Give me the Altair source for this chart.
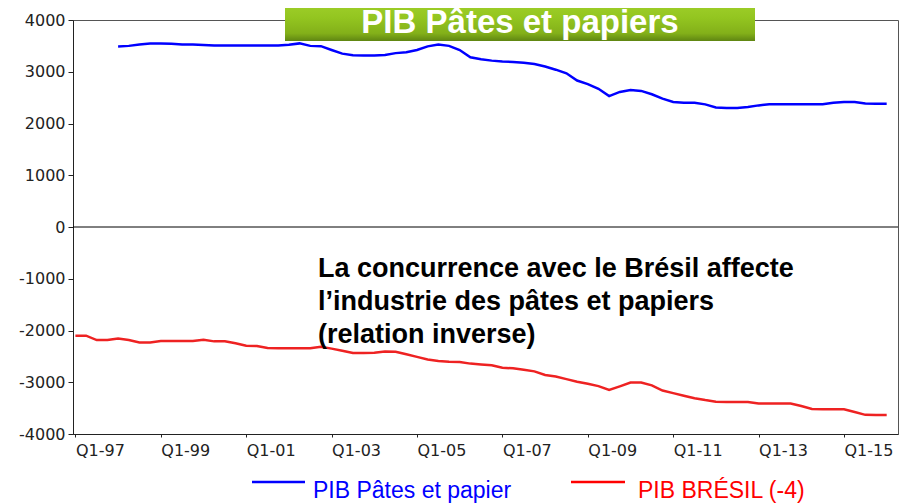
import altair as alt
import pandas as pd

# ---------------- data ----------------
series_names = ["PIB Pâtes et papier", "PIB BRÉSIL (-4)"]
series_colors = ["#0000ff", "#ee2222"]
legend_text_colors = ["#0000ff", "#ff0000"]

# quarter index: 0 = Q1-1997
quarters_blue = list(range(4, 77))
blue_values = [
    3490, 3500, 3525, 3545, 3548, 3540, 3525, 3525, 3515, 3505,
    3505, 3505, 3505, 3505, 3505, 3505, 3520, 3548, 3500, 3495,
    3420, 3350, 3320, 3315, 3315, 3325, 3360, 3375, 3420, 3490,
    3525, 3500, 3420, 3280, 3240, 3215, 3200, 3190, 3175, 3150,
    3100, 3040, 2970, 2830, 2760, 2670, 2530, 2610, 2645, 2630,
    2565, 2480, 2415, 2400, 2400, 2370, 2310, 2300, 2300, 2320,
    2350, 2370, 2370, 2370, 2370, 2370, 2370, 2400, 2415, 2415,
    2385, 2380, 2380,
]

quarters_red = list(range(0, 77))
red_values = [
    -2100, -2100, -2185, -2185, -2155, -2185, -2230, -2230, -2205, -2205,
    -2205, -2205, -2180, -2210, -2210, -2245, -2295, -2300, -2340, -2345,
    -2345, -2345, -2345, -2315, -2350, -2390, -2435, -2435, -2430, -2405,
    -2410, -2460, -2510, -2560, -2590, -2605, -2610, -2640, -2655, -2670,
    -2720, -2730, -2760, -2790, -2860, -2890, -2940, -2990, -3030, -3075,
    -3150, -3080, -3005, -3005, -3060, -3160, -3210, -3260, -3310, -3345,
    -3375, -3380, -3380, -3380, -3410, -3412, -3412, -3412, -3460, -3515,
    -3522, -3522, -3522, -3575, -3630, -3632, -3632,
]

tick_quarters = [0, 8, 16, 24, 32, 40, 48, 56, 64, 72]
tick_labels = ["Q1-97", "Q1-99", "Q1-01", "Q1-03", "Q1-05",
               "Q1-07", "Q1-09", "Q1-11", "Q1-13", "Q1-15"]
y_ticks = [-4000, -3000, -2000, -1000, 0, 1000, 2000, 3000, 4000]

title_text = "PIB Pâtes et papiers"
note_lines = ["La concurrence avec le Brésil affecte",
              "l\u2019industrie des pâtes et papiers",
              "(relation inverse)"]

# ---------------- tables ----------------
df = pd.concat([
    pd.DataFrame({"q": quarters_blue, "value": blue_values, "series": series_names[0]}),
    pd.DataFrame({"q": quarters_red, "value": red_values, "series": series_names[1]}),
], ignore_index=True)

label_expr = ("[" + ",".join(f"'{t}'" for t in tick_labels) + "]"
              "[indexof([" + ",".join(str(v) for v in tick_quarters) + "], datum.value)]")
y_label_expr = "datum.value < 0 ? '-' + abs(datum.value) : '' + datum.value"

W, H = 825, 414

lines = alt.Chart(df).mark_line(strokeWidth=2.5).encode(
    x=alt.X("q:Q",
            scale=alt.Scale(domain=[-0.225, 77.06], nice=False, zero=False),
            axis=alt.Axis(values=tick_quarters, labelExpr=label_expr, title=None,
                          labelAlign="left", labelBaseline="top", labelPadding=5,
                          tickSize=3, labelFlush=False, labelOverlap=False)),
    y=alt.Y("value:Q",
            scale=alt.Scale(domain=[-4000, 4000], nice=False, zero=False),
            axis=alt.Axis(values=y_ticks, labelExpr=y_label_expr, title=None, tickSize=5,
                          labelPadding=3, labelFlush=False, labelOverlap=False)),
    color=alt.Color("series:N",
                    scale=alt.Scale(domain=series_names, range=series_colors),
                    legend=None),
)

zero_rule = alt.Chart(pd.DataFrame({"value": [0]})).mark_rule(
    color="black", strokeWidth=1
).encode(y=alt.Y("value:Q", title=None))

title_df = pd.DataFrame({"t": [title_text]})
title_box = alt.Chart(title_df).mark_rect(
    color=alt.Gradient(
        gradient="linear",
        stops=[alt.GradientStop(color="#a9d831", offset=0),
               alt.GradientStop(color="#93c520", offset=0.55),
               alt.GradientStop(color="#83b019", offset=0.85),
               alt.GradientStop(color="#5f8512", offset=1)],
        x1=0, x2=0, y1=0, y2=1,
    )
).encode(x=alt.value(212), x2=alt.value(682), y=alt.value(-30), y2=alt.value(21))

title_label = alt.Chart(title_df).mark_text(
    font="Liberation Sans", fontSize=33, fontWeight="bold", color="white",
    align="center", baseline="alphabetic"
).encode(x=alt.value(447), y=alt.value(13), text="t:N")

note = alt.Chart(title_df).mark_text(
    font="Liberation Sans", fontSize=27, fontWeight="bold", color="black",
    align="left", baseline="alphabetic", lineHeight=33
).encode(x=alt.value(245), y=alt.value(256.5), text=alt.value(note_lines))

legend_layers = []
legend_x = [(179, 232, 240), (498, 552, 565)]
for name, lcol, tcol, (x0, x1, tx) in zip(series_names, series_colors,
                                           legend_text_colors, legend_x):
    ldf = pd.DataFrame({"s": [name]})
    legend_layers.append(
        alt.Chart(ldf).mark_rule(color=tcol, strokeWidth=2.5).encode(
            x=alt.value(x0), x2=alt.value(x1), y=alt.value(462)))
    legend_layers.append(
        alt.Chart(ldf).mark_text(font="Liberation Sans", fontSize=23, color=tcol,
                                 align="left", baseline="alphabetic").encode(
            x=alt.value(tx), y=alt.value(477.5), text="s:N"))

chart = alt.layer(zero_rule, lines, title_box, title_label, note, *legend_layers).properties(
    width=W, height=H,
    autosize=alt.AutoSizeParams(type="none"),
    padding={"left": 65, "top": 12, "right": 1, "bottom": 69},
).configure_view(
    stroke="#555555", strokeWidth=1
).configure_axis(
    grid=False, domainColor="#222222", tickColor="#222222",
    labelColor="#222222", labelFont="DejaVu Sans", labelFontSize=16,
    domainWidth=1, tickWidth=1,
)

chart.save("out.html", embed_options={"renderer": "svg", "actions": False})
